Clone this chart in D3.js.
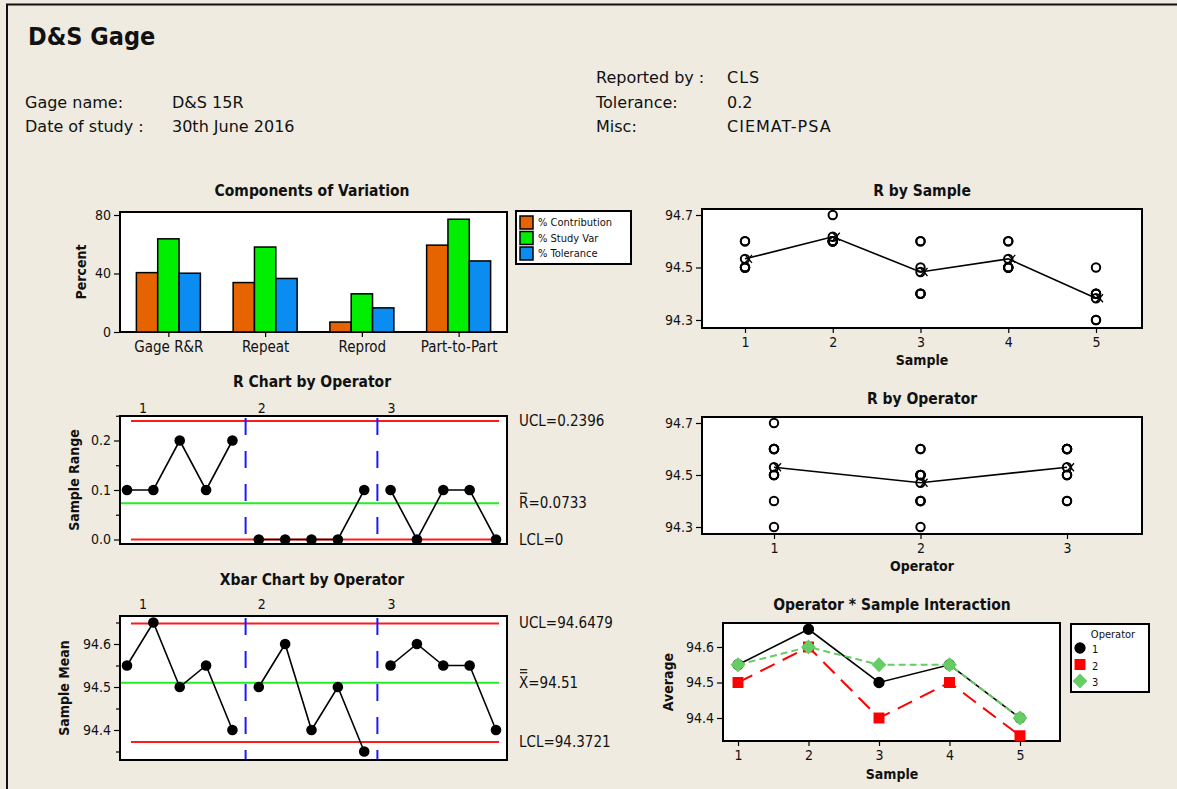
<!DOCTYPE html>
<html>
<head>
<meta charset="utf-8">
<script src="https://cdn.jsdelivr.net/npm/d3@7"></script>
<style>
  body { margin: 0; background: #efebe1; }
  text { font-family: "DejaVu Sans Condensed", "DejaVu Sans", sans-serif; fill: #111; }
  text.wide { font-family: "DejaVu Sans", sans-serif; }
</style>
</head>
<body>
<svg id="chart" width="1177" height="789"></svg>
<script>
// ---- data ----
const components = ["Gage R&R", "Repeat", "Reprod", "Part-to-Part"];
const pctContribution = [40.6, 33.8, 6.8, 59.4];
const pctStudyVar = [63.7, 58.1, 26.1, 77.1];
const pctTolerance = [40.2, 36.6, 16.5, 48.6];
const componentKeys = ["% Contribution", "% Study Var", "% Tolerance"];

const samples = [1, 2, 3, 4, 5];
const operators = [1, 2, 3];

// subgroup range and mean, [operator][sample]
const rangeByOperator = [
  [0.1, 0.1, 0.2, 0.1, 0.2],
  [0.0, 0.0, 0.0, 0.0, 0.1],
  [0.1, 0.0, 0.1, 0.1, 0.0]
];
const meanByOperator = [
  [94.55, 94.65, 94.50, 94.55, 94.40],
  [94.50, 94.60, 94.40, 94.50, 94.35],
  [94.55, 94.60, 94.55, 94.55, 94.40]
];

const rLimitValues = [0.2396, 0.0733, 0];
const rLimitLabels = ["UCL=0.2396", "=0.0733", "LCL=0"];
const xLimitValues = [94.6479, 94.51, 94.3721];
const xLimitLabels = ["UCL=94.6479", "=94.51", "LCL=94.3721"];

// two trials per part, [operator][sample]
const measurements = [
  [[94.5, 94.6], [94.6, 94.7], [94.4, 94.6], [94.5, 94.6], [94.3, 94.5]],
  [[94.5, 94.5], [94.6, 94.6], [94.4, 94.4], [94.5, 94.5], [94.3, 94.4]],
  [[94.5, 94.6], [94.6, 94.6], [94.5, 94.6], [94.5, 94.6], [94.4, 94.4]]
];
const sampleAverages = [94.533, 94.617, 94.483, 94.533, 94.383];
const operatorAverages = [94.53, 94.47, 94.53];

const barColors = ["#e66400", "#00ee00", "#0a8cf0"];
const opColors = ["#000000", "#ff0000", "#66cc66"];

// ---- drawing ----
const svg = d3.select("#chart");
svg.append("rect").attr("width", 1177).attr("height", 789).attr("fill", "#efebe1");
svg.append("path").attr("d", "M7,789V4.5H1177").attr("fill", "none").attr("stroke", "#111").attr("stroke-width", 2);

function label(x, y, str, size, opts = {}) {
  const t = svg.append("text")
    .attr("x", x).attr("y", y)
    .attr("font-size", size)
    .attr("font-weight", opts.bold ? "bold" : "normal")
    .attr("text-anchor", opts.anchor || "start")
    .attr("dominant-baseline", opts.baseline || "auto")
    .text(str);
  if (opts.wide) t.attr("class", "wide");
  if (opts.rotate) t.attr("transform", `rotate(-90,${x},${y})`);
  return t;
}

// header
label(28, 45, "D&S Gage", 25, { bold: true });
label(25, 108, "Gage name:", 16, { wide: true });
label(172, 108, "D&S 15R", 16, { wide: true });
label(25, 132, "Date of study :", 16, { wide: true });
label(172, 132, "30th June 2016", 16, { wide: true });
label(596, 83, "Reported by :", 16, { wide: true });
label(727, 83, "CLS", 16, { wide: true }).attr("letter-spacing", 1);
label(596, 108, "Tolerance:", 16, { wide: true });
label(727, 108, "0.2", 16, { wide: true });
label(596, 132, "Misc:", 16, { wide: true });
label(727, 132, "CIEMAT-PSA", 16, { wide: true }).attr("letter-spacing", 1);

function frame(b) {
  svg.append("rect")
    .attr("x", b[0]).attr("y", b[1]).attr("width", b[2] - b[0]).attr("height", b[3] - b[1])
    .attr("fill", "#fff").attr("stroke", "#000").attr("stroke-width", 2);
}

function styleAxis(g, size) {
  g.select(".domain").remove();
  g.selectAll(".tick line").attr("stroke", "#000").attr("stroke-width", 1.2);
  g.selectAll(".tick text").attr("font-size", size || 14).attr("font-family", null).attr("fill", "#111");
}

function leftAxis(y, x0, ticks, fmt, minor) {
  const g = svg.append("g").attr("transform", `translate(${x0 - 1},0)`)
    .call(d3.axisLeft(y).tickValues(ticks).tickSize(5).tickPadding(3).tickFormat(fmt));
  styleAxis(g);
  if (minor) {
    const m = svg.append("g").attr("transform", `translate(${x0 - 1},0)`)
      .call(d3.axisLeft(y).tickValues(minor).tickSize(3).tickFormat(""));
    styleAxis(m);
  }
}

function bottomAxis(x, y0, ticks, fmt, size) {
  const g = svg.append("g").attr("transform", `translate(0,${y0 + 1})`)
    .call(d3.axisBottom(x).tickValues(ticks).tickSize(4).tickPadding(4).tickFormat(fmt || d3.format("d")));
  styleAxis(g, size);
}

// ---------- Components of Variation ----------
{
  const box = [120, 212, 507, 332];
  const x = d3.scaleBand().domain(components).range([box[0], box[2]]);
  const y = d3.scaleLinear().domain([0, 80]).range([332, 215]);
  const inner = d3.scaleBand().domain(componentKeys).range([0, 64]);
  const series = [pctContribution, pctStudyVar, pctTolerance];
  label(312, 196, "Components of Variation", 15.5, { bold: true, anchor: "middle" });
  frame(box);
  components.forEach((c, i) => {
    const gx = x(c) + x.bandwidth() / 2 - 32;
    series.forEach((s, k) => {
      svg.append("rect")
        .attr("x", gx + inner(componentKeys[k])).attr("y", y(s[i]))
        .attr("width", inner.bandwidth()).attr("height", y(0) - y(s[i]))
        .attr("fill", barColors[k]).attr("stroke", "#000").attr("stroke-width", 1.5);
    });
  });
  leftAxis(y, box[0], [0, 40, 80], d3.format("d"));
  const xb = d3.scalePoint().domain(components).range([x(components[0]) + x.bandwidth() / 2, x(components[3]) + x.bandwidth() / 2]);
  bottomAxis(xb, box[3], components, d => d, 15);
  label(86, 272, "Percent", 14, { bold: true, anchor: "middle", rotate: true });

  // legend
  svg.append("rect").attr("x", 516).attr("y", 211).attr("width", 115).attr("height", 53)
    .attr("fill", "#fff").attr("stroke", "#000").attr("stroke-width", 2);
  componentKeys.forEach((k, i) => {
    const ry = 216 + i * 15.5;
    svg.append("rect").attr("x", 520).attr("y", ry).attr("width", 13).attr("height", 13)
      .attr("fill", barColors[i]).attr("stroke", "#000").attr("stroke-width", 1.5);
    label(538, ry + 7, k, 11, { baseline: "middle" });
  });
}

// overline label like R-bar / X-double-bar
function barredLabel(x, y, letter, rest, bars) {
  const t = label(x, y + 5, letter + rest, 15);
  const w = t.node().getSubStringLength(0, 1);
  for (let i = 0; i < bars; i++) {
    svg.append("line").attr("x1", x + 1).attr("x2", x + w - 1)
      .attr("y1", y - 10 - i * 3).attr("y2", y - 10 - i * 3)
      .attr("stroke", "#111").attr("stroke-width", 1.2);
  }
}

function controlChart(box, y, values, limits, limitLabels, centerLetter, bars, yTicks, yMinor, yFmt, title, ylab, opLabelY) {
  const x = d3.scaleLinear().domain([0, 14]).range([127, 496]);
  label(312, title[1], title[0], 15.5, { bold: true, anchor: "middle" });
  frame(box);
  // limit lines
  limits.forEach((v, i) => {
    svg.append("line")
      .attr("x1", i === 1 ? box[0] + 1 : x(0) + 4).attr("x2", x(14) + 3)
      .attr("y1", y(v)).attr("y2", y(v))
      .attr("stroke", i === 1 ? "#22ee22" : "#ff1a1a").attr("stroke-width", 2);
  });
  // operator separators
  [4.5, 9.5].forEach(s => {
    svg.append("line").attr("x1", x(s)).attr("x2", x(s))
      .attr("y1", box[1] + 2).attr("y2", box[3] - 1)
      .attr("stroke", "#1a1aff").attr("stroke-width", 2).attr("stroke-dasharray", "17,16");
  });
  const line = d3.line().x(d => x(d.i)).y(d => y(d.v));
  const shift = [16, 3, 1];
  values.forEach((row, o) => {
    const pts = row.map((v, s) => ({ i: o * 5 + s, v }));
    svg.append("path").datum(pts).attr("d", line).attr("fill", "none")
      .attr("stroke", "#000").attr("stroke-width", 1.6);
    svg.selectAll(null).data(pts).enter().append("circle")
      .attr("cx", d => x(d.i)).attr("cy", d => y(d.v)).attr("r", 5.3).attr("fill", "#000");
    label(x(o * 5) + shift[o], opLabelY, String(operators[o]), 14, { anchor: "middle", baseline: "middle" });
  });
  leftAxis(y, box[0], yTicks, yFmt, yMinor);
  limitLabels.forEach((t, i) => {
    if (i === 1) barredLabel(519, y(limits[i]), centerLetter, t, bars);
    else label(519, y(limits[i]) + 5, t, 15);
  });
  label(ylab[1], (box[1] + box[3]) / 2, ylab[0], 14, { bold: true, anchor: "middle", rotate: true });
}

// ---------- R Chart by Operator ----------
controlChart([120, 416, 507, 544],
  d3.scaleLinear().domain([0, 0.2]).range([539.5, 440.5]),
  rangeByOperator, rLimitValues, rLimitLabels, "R", 1,
  [0, 0.1, 0.2], [0.05, 0.15, 0.25], d3.format(".1f"),
  ["R Chart by Operator", 387], ["Sample Range", 79], 409);

// ---------- Xbar Chart by Operator ----------
controlChart([120, 616, 507, 760],
  d3.scaleLinear().domain([94.5, 94.6]).range([687, 644]),
  meanByOperator, xLimitValues, xLimitLabels, "X", 2,
  [94.4, 94.5, 94.6], [94.35, 94.45, 94.55, 94.65], d3.format(".1f"),
  ["Xbar Chart by Operator", 585], ["Sample Mean", 69], 605);

// by-plots with open circles and mean line
function meanMarker(cx, cy) {
  svg.append("circle").attr("cx", cx).attr("cy", cy).attr("r", 4.2)
    .attr("fill", "none").attr("stroke", "#000").attr("stroke-width", 2);
  svg.append("path")
    .attr("d", `M${cx},${cy - 4}L${cx + 7},${cy + 4}M${cx},${cy + 4}L${cx + 7},${cy - 4}`)
    .attr("stroke", "#000").attr("stroke-width", 1.3);
}

function byPlot(box, x, y, groups, points, means, title, xlab) {
  label((box[0] + box[2]) / 2, box[1] - 13, title, 15.5, { bold: true, anchor: "middle" });
  frame(box);
  groups.forEach((g, i) => {
    points[i].forEach(v => {
      svg.append("circle").attr("cx", x(g)).attr("cy", y(v)).attr("r", 4.2)
        .attr("fill", "none").attr("stroke", "#000").attr("stroke-width", 2);
    });
  });
  svg.append("path").datum(means).attr("fill", "none").attr("stroke", "#000").attr("stroke-width", 1.6)
    .attr("d", d3.line().x((d, i) => x(groups[i])).y(d => y(d)));
  means.forEach((m, i) => meanMarker(x(groups[i]), y(m)));
  leftAxis(y, box[0], [94.3, 94.5, 94.7], d3.format(".1f"));
  bottomAxis(x, box[3], groups);
  label((box[0] + box[2]) / 2, box[3] + 37, xlab, 14, { bold: true, anchor: "middle" });
}

// ---------- R by Sample ----------
byPlot([702, 209, 1142, 328],
  d3.scaleLinear().domain([1, 5]).range([745, 1096]),
  d3.scaleLinear().domain([94.3, 94.7]).range([320, 215]),
  samples,
  samples.map((s, i) => operators.flatMap((o, k) => measurements[k][i])),
  sampleAverages, "R by Sample", "Sample");

// ---------- R by Operator ----------
byPlot([702, 417, 1142, 534],
  d3.scaleLinear().domain([1, 3]).range([774, 1067]),
  d3.scaleLinear().domain([94.3, 94.7]).range([527, 423]),
  operators,
  operators.map((o, k) => measurements[k].flat()),
  operatorAverages, "R by Operator", "Operator");

// ---------- Operator * Sample Interaction ----------
{
  const box = [723, 623, 1060, 741];
  const x = d3.scaleLinear().domain([1, 5]).range([738, 1020]);
  const y = d3.scaleLinear().domain([94.4, 94.6]).range([718, 647]);
  label(892, 610, "Operator * Sample Interaction", 15.5, { bold: true, anchor: "middle" });
  frame(box);
  const dashes = [null, "16,9", "7,4"];
  const line = d3.line().x((d, i) => x(samples[i])).y(d => y(d));
  // circle, square, diamond (square turned 45 degrees)
  const symbols = [d3.symbolCircle, d3.symbolSquare, d3.symbolSquare];
  const sizes = [100, 120, 110];
  const turns = [0, 0, 45];
  meanByOperator.forEach((row, o) => {
    svg.append("path").datum(row).attr("d", line).attr("fill", "none")
      .attr("stroke", opColors[o]).attr("stroke-width", o === 0 ? 1.6 : 2)
      .attr("stroke-dasharray", dashes[o]);
    row.forEach((v, i) => {
      svg.append("path")
        .attr("d", d3.symbol().type(symbols[o]).size(sizes[o])())
        .attr("transform", `translate(${x(samples[i])},${y(v)}) rotate(${turns[o]})`)
        .attr("fill", opColors[o]);
    });
  });
  leftAxis(y, box[0], [94.4, 94.5, 94.6], d3.format(".1f"));
  bottomAxis(x, box[3], samples);
  label(673, 682, "Average", 14, { bold: true, anchor: "middle", rotate: true });
  label(892, 779, "Sample", 14, { bold: true, anchor: "middle" });

  svg.append("rect").attr("x", 1071).attr("y", 624).attr("width", 78).attr("height", 68)
    .attr("fill", "#fff").attr("stroke", "#000").attr("stroke-width", 2);
  label(1113, 635, "Operator", 11, { anchor: "middle", baseline: "middle" });
  operators.forEach((o, i) => {
    const ly = 648 + i * 16.5;
    svg.append("path")
      .attr("d", d3.symbol().type(symbols[i]).size(sizes[i])())
      .attr("transform", `translate(${1080},${ly}) rotate(${turns[i]})`)
      .attr("fill", opColors[i]);
    label(1092, ly + 2, String(o), 11, { baseline: "middle" });
  });
}
</script>
</body>
</html>
